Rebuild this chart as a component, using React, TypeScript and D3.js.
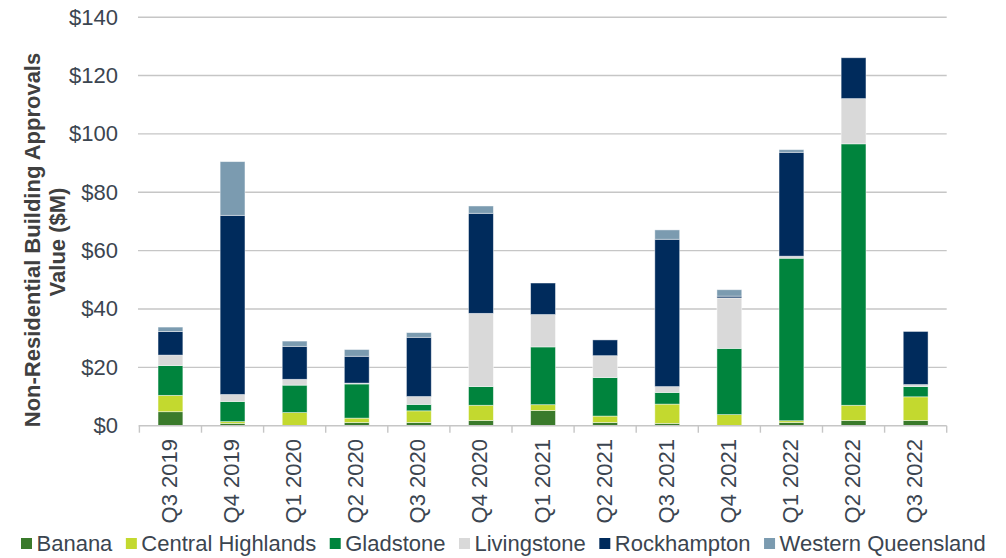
import React, { useMemo } from "react";
import * as d3 from "d3";

// Quarterly non-residential building approvals by region ($M)
const quarters = [
  "Q3 2019", "Q4 2019", "Q1 2020", "Q2 2020", "Q3 2020", "Q4 2020", "Q1 2021",
  "Q2 2021", "Q3 2021", "Q4 2021", "Q1 2022", "Q2 2022", "Q3 2022",
];
const regions = [
  "Banana", "Central Highlands", "Gladstone", "Livingstone", "Rockhampton", "Western Queensland",
];
const banana = [4.8, 0.8, 0, 1.1, 1.1, 1.8, 5.2, 1.1, 0.8, 0, 1.1, 1.8, 1.8];
const centralHighlands = [5.6, 0.6, 4.5, 1.5, 4.0, 5.2, 2.0, 2.2, 6.6, 3.8, 0.6, 5.2, 8.1];
const gladstone = [10.2, 6.9, 9.4, 11.7, 2.2, 6.4, 19.8, 13.2, 4.0, 22.7, 55.7, 89.6, 3.5];
const livingstone = [3.6, 2.4, 2.0, 0.3, 2.7, 25.1, 11.1, 7.5, 2.0, 17.3, 0.7, 15.5, 0.7];
const rockhampton = [8.1, 61.4, 11.3, 9.2, 20.3, 34.3, 10.8, 5.4, 50.5, 0.6, 35.6, 14.0, 18.2];
const westernQueensland = [1.5, 18.4, 1.8, 2.3, 1.6, 2.5, 0, 0, 3.2, 2.2, 0.9, 0, 0];
const yTicks = [0, 20, 40, 60, 80, 100, 120, 140];

const colors = ["#3A7A2B", "#C3D92F", "#00843D", "#D9D9D9", "#002B5C", "#7B9BB0"];
const FONT = "'Liberation Sans', Arial, sans-serif";
const TEXT = "#3B4550";

export default function App() {
  const width = 1006;
  const height = 558;
  const x0 = 139.4;
  const x1 = 946.7;

  const rows = quarters.map((q, i) => ({
    q,
    Banana: banana[i],
    "Central Highlands": centralHighlands[i],
    Gladstone: gladstone[i],
    Livingstone: livingstone[i],
    Rockhampton: rockhampton[i],
    "Western Queensland": westernQueensland[i],
  }));
  const series = d3.stack<any>().keys(regions)(rows);

  const x = d3.scaleBand<string>().domain(quarters).range([x0, x1]).paddingInner(0.6).paddingOuter(0.3);
  const y = d3.scaleLinear().domain([0, 140]).range([425.7, 17.2]);
  const step = x.step();
  const bandStart = (q: string) => (x(q) as number) - step * 0.3;

  // Legend flow layout measured with canvas text metrics
  const legend = useMemo(() => {
    const ctx = document.createElement("canvas").getContext("2d")!;
    ctx.font = `22px ${FONT}`;
    let cx = 21;
    return regions.map((r) => {
      const item = { r, x: cx };
      cx += 11 + 4.5 + ctx.measureText(r).width + 13.5;
      return item;
    });
  }, []);

  return (
    <svg
      width={width}
      height={height}
      style={{ position: "absolute", left: 0, top: 0, background: "#fff" }}
      fontFamily={FONT}
    >
      {/* grid */}
      {yTicks.filter((t) => t > 0).map((t) => (
        <line key={t} x1={138} x2={x1} y1={y(t)} y2={y(t)} stroke="#C6C6C6" strokeWidth={1.4} />
      ))}
      {yTicks.map((t) => (
        <text key={t} x={118} y={y(t)} textAnchor="end" dominantBaseline="central" fontSize={22} fill={TEXT}>
          ${t}
        </text>
      ))}

      {/* stacked bars */}
      {series.map((s, si) => (
        <g key={s.key} fill={colors[si]}>
          {s.map((d, i) =>
            d[1] - d[0] > 0 ? (
              <rect
                key={i}
                x={x(quarters[i])}
                width={x.bandwidth()}
                y={y(d[1])}
                height={y(d[0]) - y(d[1])}
                stroke="#ffffff"
                strokeOpacity={0.55}
                strokeWidth={0.8}
              />
            ) : null
          )}
        </g>
      ))}

      {/* x axis */}
      <line x1={138.6} x2={x1} y1={y(0)} y2={y(0)} stroke="#C6C6C6" strokeWidth={1.6} />
      {quarters.map((q) => (
        <line key={q} x1={bandStart(q)} x2={bandStart(q)} y1={y(0)} y2={y(0) + 7} stroke="#C6C6C6" strokeWidth={1.4} />
      ))}
      <line x1={x1} x2={x1} y1={y(0)} y2={y(0) + 7} stroke="#C6C6C6" strokeWidth={1.4} />
      {quarters.map((q) => (
        <text
          key={q}
          transform={`translate(${(x(q) as number) + x.bandwidth() / 2 - 1},${439}) rotate(-90)`}
          textAnchor="end"
          dominantBaseline="central"
          fontSize={22}
          fill={TEXT}
        >
          {q}
        </text>
      ))}

      {/* y axis title */}
      <g fontWeight="bold" fontSize={22} fill="#404040" textAnchor="middle">
        <text transform="translate(32,240) rotate(-90)" dominantBaseline="central">
          Non-Residential Building Approvals
        </text>
        <text transform="translate(57,242) rotate(-90)" dominantBaseline="central">
          Value ($M)
        </text>
      </g>

      {/* legend */}
      {legend.map((l, i) => (
        <g key={l.r}>
          <rect x={l.x} y={538} width={11} height={11} fill={colors[i]} />
          <text x={l.x + 15.5} y={551} fontSize={22} fill={TEXT}>
            {l.r}
          </text>
        </g>
      ))}
    </svg>
  );
}
